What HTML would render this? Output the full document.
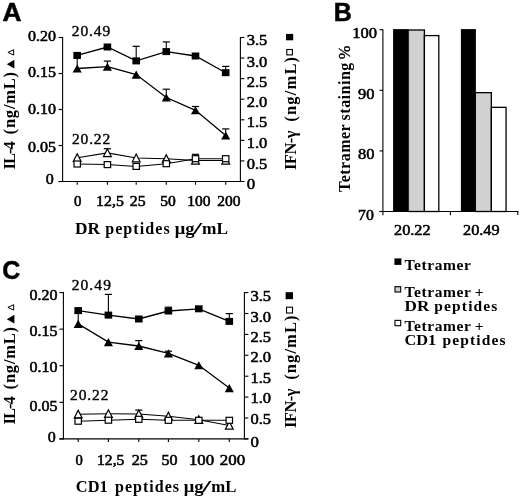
<!DOCTYPE html>
<html><head><meta charset="utf-8"><title>Figure</title>
<style>html,body{margin:0;padding:0;background:#fff;}svg{display:block;filter:grayscale(1);}</style></head><body>
<svg width="520" height="497" viewBox="0 0 520 497">
<rect width="520" height="497" fill="#fff"/>
<text x="2.6" y="20.8" font-family='"Liberation Sans", sans-serif' font-size="25" font-weight="bold" stroke="#000" stroke-width="0.5" text-anchor="start" textLength="19.0" lengthAdjust="spacingAndGlyphs">A</text>
<text x="333.7" y="20.8" font-family='"Liberation Sans", sans-serif' font-size="25" font-weight="bold" stroke="#000" stroke-width="0.5" text-anchor="start" textLength="17.4" lengthAdjust="spacing">B</text>
<text x="2.2" y="278.5" font-family='"Liberation Sans", sans-serif' font-size="25" font-weight="bold" stroke="#000" stroke-width="0.5" text-anchor="start" textLength="18.2" lengthAdjust="spacing">C</text>
<line x1="62.6" y1="37.0" x2="62.6" y2="182.0" stroke="#000" stroke-width="1.1"/>
<line x1="240.4" y1="37.0" x2="240.4" y2="182.0" stroke="#000" stroke-width="1.1"/>
<line x1="58.6" y1="181.5" x2="244.4" y2="181.5" stroke="#000" stroke-width="1.1"/>
<line x1="58.6" y1="37.5" x2="62.6" y2="37.5" stroke="#000" stroke-width="1.1"/>
<line x1="58.6" y1="73.5" x2="62.6" y2="73.5" stroke="#000" stroke-width="1.1"/>
<line x1="58.6" y1="109.5" x2="62.6" y2="109.5" stroke="#000" stroke-width="1.1"/>
<line x1="58.6" y1="145.5" x2="62.6" y2="145.5" stroke="#000" stroke-width="1.1"/>
<line x1="58.6" y1="181.5" x2="62.6" y2="181.5" stroke="#000" stroke-width="1.1"/>
<line x1="240.4" y1="37.5" x2="244.4" y2="37.5" stroke="#000" stroke-width="1.1"/>
<line x1="240.4" y1="58.07142857142857" x2="244.4" y2="58.07142857142857" stroke="#000" stroke-width="1.1"/>
<line x1="240.4" y1="78.64285714285714" x2="244.4" y2="78.64285714285714" stroke="#000" stroke-width="1.1"/>
<line x1="240.4" y1="99.21428571428572" x2="244.4" y2="99.21428571428572" stroke="#000" stroke-width="1.1"/>
<line x1="240.4" y1="119.78571428571429" x2="244.4" y2="119.78571428571429" stroke="#000" stroke-width="1.1"/>
<line x1="240.4" y1="140.35714285714286" x2="244.4" y2="140.35714285714286" stroke="#000" stroke-width="1.1"/>
<line x1="240.4" y1="160.92857142857144" x2="244.4" y2="160.92857142857144" stroke="#000" stroke-width="1.1"/>
<line x1="240.4" y1="181.5" x2="244.4" y2="181.5" stroke="#000" stroke-width="1.1"/>
<line x1="77.2" y1="181.5" x2="77.2" y2="184.7" stroke="#000" stroke-width="1.1"/>
<line x1="107.4" y1="181.5" x2="107.4" y2="184.7" stroke="#000" stroke-width="1.1"/>
<line x1="136.2" y1="181.5" x2="136.2" y2="184.7" stroke="#000" stroke-width="1.1"/>
<line x1="166.3" y1="181.5" x2="166.3" y2="184.7" stroke="#000" stroke-width="1.1"/>
<line x1="195.5" y1="181.5" x2="195.5" y2="184.7" stroke="#000" stroke-width="1.1"/>
<line x1="225.7" y1="181.5" x2="225.7" y2="184.7" stroke="#000" stroke-width="1.1"/>
<text x="28.1" y="40.9" font-family='"Liberation Serif", serif' font-size="15" font-weight="normal" stroke="#000" stroke-width="0.55" text-anchor="start" textLength="28.0" lengthAdjust="spacingAndGlyphs">0.20</text>
<text x="28.1" y="76.6" font-family='"Liberation Serif", serif' font-size="15" font-weight="normal" stroke="#000" stroke-width="0.55" text-anchor="start" textLength="28.0" lengthAdjust="spacingAndGlyphs">0.15</text>
<text x="28.1" y="113.5" font-family='"Liberation Serif", serif' font-size="15" font-weight="normal" stroke="#000" stroke-width="0.55" text-anchor="start" textLength="28.0" lengthAdjust="spacingAndGlyphs">0.10</text>
<text x="28.1" y="151.6" font-family='"Liberation Serif", serif' font-size="15" font-weight="normal" stroke="#000" stroke-width="0.55" text-anchor="start" textLength="28.0" lengthAdjust="spacingAndGlyphs">0.05</text>
<text x="45.800000000000004" y="183.6" font-family='"Liberation Serif", serif' font-size="15" font-weight="normal" stroke="#000" stroke-width="0.55" text-anchor="start" textLength="8.0" lengthAdjust="spacingAndGlyphs">0</text>
<text x="246.7" y="45.4" font-family='"Liberation Serif", serif' font-size="15.5" font-weight="normal" stroke="#000" stroke-width="0.55" text-anchor="start" textLength="20.6" lengthAdjust="spacingAndGlyphs">3.5</text>
<text x="246.7" y="66.5" font-family='"Liberation Serif", serif' font-size="15.5" font-weight="normal" stroke="#000" stroke-width="0.55" text-anchor="start" textLength="20.6" lengthAdjust="spacingAndGlyphs">3.0</text>
<text x="246.7" y="86.9" font-family='"Liberation Serif", serif' font-size="15.5" font-weight="normal" stroke="#000" stroke-width="0.55" text-anchor="start" textLength="20.6" lengthAdjust="spacingAndGlyphs">2.5</text>
<text x="246.7" y="107.1" font-family='"Liberation Serif", serif' font-size="15.5" font-weight="normal" stroke="#000" stroke-width="0.55" text-anchor="start" textLength="20.6" lengthAdjust="spacingAndGlyphs">2.0</text>
<text x="246.7" y="127.4" font-family='"Liberation Serif", serif' font-size="15.5" font-weight="normal" stroke="#000" stroke-width="0.55" text-anchor="start" textLength="20.6" lengthAdjust="spacingAndGlyphs">1.5</text>
<text x="246.7" y="147.8" font-family='"Liberation Serif", serif' font-size="15.5" font-weight="normal" stroke="#000" stroke-width="0.55" text-anchor="start" textLength="20.6" lengthAdjust="spacingAndGlyphs">1.0</text>
<text x="246.7" y="168.6" font-family='"Liberation Serif", serif' font-size="15.5" font-weight="normal" stroke="#000" stroke-width="0.55" text-anchor="start" textLength="20.6" lengthAdjust="spacingAndGlyphs">0.5</text>
<text x="246.7" y="189.0" font-family='"Liberation Serif", serif' font-size="15.5" font-weight="normal" stroke="#000" stroke-width="0.55" text-anchor="start" textLength="8.4" lengthAdjust="spacingAndGlyphs">0</text>
<text x="74.0" y="206.2" font-family='"Liberation Serif", serif' font-size="14.5" font-weight="normal" stroke="#000" stroke-width="0.55" text-anchor="start" textLength="7.4" lengthAdjust="spacingAndGlyphs">0</text>
<text x="96.1" y="206.2" font-family='"Liberation Serif", serif' font-size="14.5" font-weight="normal" stroke="#000" stroke-width="0.55" text-anchor="start" textLength="27.7" lengthAdjust="spacingAndGlyphs">12,5</text>
<text x="129.8" y="206.2" font-family='"Liberation Serif", serif' font-size="14.5" font-weight="normal" stroke="#000" stroke-width="0.55" text-anchor="start" textLength="15.8" lengthAdjust="spacingAndGlyphs">25</text>
<text x="160.2" y="206.2" font-family='"Liberation Serif", serif' font-size="14.5" font-weight="normal" stroke="#000" stroke-width="0.55" text-anchor="start" textLength="15.5" lengthAdjust="spacingAndGlyphs">50</text>
<text x="187.2" y="206.2" font-family='"Liberation Serif", serif' font-size="14.5" font-weight="normal" stroke="#000" stroke-width="0.55" text-anchor="start" textLength="23.2" lengthAdjust="spacingAndGlyphs">100</text>
<text x="217.2" y="206.2" font-family='"Liberation Serif", serif' font-size="14.5" font-weight="normal" stroke="#000" stroke-width="0.55" text-anchor="start" textLength="23.2" lengthAdjust="spacingAndGlyphs">200</text>
<line x1="77.2" y1="68.5" x2="77.2" y2="58.0" stroke="#000" stroke-width="1.1"/>
<line x1="73.60000000000001" y1="58.0" x2="80.8" y2="58.0" stroke="#000" stroke-width="1.2"/>
<line x1="107.4" y1="66.7" x2="107.4" y2="61.1" stroke="#000" stroke-width="1.1"/>
<line x1="103.80000000000001" y1="61.1" x2="111.0" y2="61.1" stroke="#000" stroke-width="1.2"/>
<line x1="136.2" y1="60.9" x2="136.2" y2="46.3" stroke="#000" stroke-width="1.1"/>
<line x1="132.6" y1="46.3" x2="139.79999999999998" y2="46.3" stroke="#000" stroke-width="1.2"/>
<line x1="166.3" y1="51.6" x2="166.3" y2="41.9" stroke="#000" stroke-width="1.1"/>
<line x1="162.70000000000002" y1="41.9" x2="169.9" y2="41.9" stroke="#000" stroke-width="1.2"/>
<line x1="225.7" y1="72.7" x2="225.7" y2="66.4" stroke="#000" stroke-width="1.1"/>
<line x1="222.1" y1="66.4" x2="229.29999999999998" y2="66.4" stroke="#000" stroke-width="1.2"/>
<line x1="166.3" y1="97.5" x2="166.3" y2="89.2" stroke="#000" stroke-width="1.1"/>
<line x1="162.70000000000002" y1="89.2" x2="169.9" y2="89.2" stroke="#000" stroke-width="1.2"/>
<line x1="195.5" y1="110.3" x2="195.5" y2="106.5" stroke="#000" stroke-width="1.1"/>
<line x1="191.9" y1="106.5" x2="199.1" y2="106.5" stroke="#000" stroke-width="1.2"/>
<line x1="225.7" y1="135.5" x2="225.7" y2="128.9" stroke="#000" stroke-width="1.1"/>
<line x1="222.1" y1="128.9" x2="229.29999999999998" y2="128.9" stroke="#000" stroke-width="1.2"/>
<line x1="107.4" y1="152.9" x2="107.4" y2="148.7" stroke="#000" stroke-width="1.1"/>
<line x1="103.80000000000001" y1="148.7" x2="111.0" y2="148.7" stroke="#000" stroke-width="1.2"/>
<line x1="195.5" y1="158.8" x2="195.5" y2="154.3" stroke="#000" stroke-width="1.1"/>
<line x1="191.9" y1="154.3" x2="199.1" y2="154.3" stroke="#000" stroke-width="1.2"/>
<polyline points="77.2,55.4 107.4,47.0 136.2,60.9 166.3,51.6 195.5,56.0 225.7,72.7" fill="none" stroke="#000" stroke-width="1.3"/>
<polyline points="77.2,68.5 107.4,66.7 136.2,74.6 166.3,97.5 195.5,110.3 225.7,135.5" fill="none" stroke="#000" stroke-width="1.3"/>
<polyline points="77.2,157.8 107.4,152.9 136.2,158.1 166.3,158.7 195.5,160.4 225.7,160.4" fill="none" stroke="#000" stroke-width="1.05"/>
<polyline points="77.2,164.0 107.4,164.6 136.2,166.4 166.3,163.7 195.5,158.7 225.7,158.7" fill="none" stroke="#000" stroke-width="1.05"/>
<polygon points="77.20,64.45 81.75,72.55 72.65,72.55" fill="#000"/>
<polygon points="107.40,62.65 111.95,70.75 102.85,70.75" fill="#000"/>
<polygon points="136.20,70.55 140.75,78.65 131.65,78.65" fill="#000"/>
<polygon points="166.30,93.45 170.85,101.55 161.75,101.55" fill="#000"/>
<polygon points="195.50,106.25 200.05,114.35 190.95,114.35" fill="#000"/>
<polygon points="225.70,131.45 230.25,139.55 221.15,139.55" fill="#000"/>
<rect x="73.40" y="51.90" width="7.6" height="7.0" fill="#000"/>
<rect x="103.60" y="43.50" width="7.6" height="7.0" fill="#000"/>
<rect x="132.40" y="57.40" width="7.6" height="7.0" fill="#000"/>
<rect x="162.50" y="48.10" width="7.6" height="7.0" fill="#000"/>
<rect x="191.70" y="52.50" width="7.6" height="7.0" fill="#000"/>
<rect x="221.90" y="69.20" width="7.6" height="7.0" fill="#000"/>
<polygon points="77.20,153.80 81.10,161.50 73.30,161.50" fill="#fff" stroke="#000" stroke-width="1.2" stroke-linejoin="miter"/>
<polygon points="107.40,148.90 111.30,156.60 103.50,156.60" fill="#fff" stroke="#000" stroke-width="1.2" stroke-linejoin="miter"/>
<polygon points="136.20,154.10 140.10,161.80 132.30,161.80" fill="#fff" stroke="#000" stroke-width="1.2" stroke-linejoin="miter"/>
<polygon points="166.30,154.70 170.20,162.40 162.40,162.40" fill="#fff" stroke="#000" stroke-width="1.2" stroke-linejoin="miter"/>
<polygon points="195.50,156.40 199.40,164.10 191.60,164.10" fill="#fff" stroke="#000" stroke-width="1.2" stroke-linejoin="miter"/>
<polygon points="225.70,156.40 229.60,164.10 221.80,164.10" fill="#fff" stroke="#000" stroke-width="1.2" stroke-linejoin="miter"/>
<rect x="74.00" y="161.00" width="6.3999999999999995" height="6.0" fill="#fff" stroke="#000" stroke-width="1.2"/>
<rect x="104.20" y="161.60" width="6.3999999999999995" height="6.0" fill="#fff" stroke="#000" stroke-width="1.2"/>
<rect x="133.00" y="163.40" width="6.3999999999999995" height="6.0" fill="#fff" stroke="#000" stroke-width="1.2"/>
<rect x="163.10" y="160.70" width="6.3999999999999995" height="6.0" fill="#fff" stroke="#000" stroke-width="1.2"/>
<rect x="192.30" y="155.70" width="6.3999999999999995" height="6.0" fill="#fff" stroke="#000" stroke-width="1.2"/>
<rect x="222.50" y="155.70" width="6.3999999999999995" height="6.0" fill="#fff" stroke="#000" stroke-width="1.2"/>
<text x="71.7" y="35.9" font-family='"Liberation Serif", serif' font-size="15.5" font-weight="normal" stroke="#000" stroke-width="0.4" text-anchor="start" textLength="38.6" lengthAdjust="spacing">20.49</text>
<text x="72.0" y="143.6" font-family='"Liberation Serif", serif' font-size="15.5" font-weight="normal" stroke="#000" stroke-width="0.4" text-anchor="start" textLength="38.2" lengthAdjust="spacing">20.22</text>
<text x="74.9" y="233.6" font-family='"Liberation Serif", serif' font-size="16" font-weight="bold" text-anchor="start" textLength="25.0" lengthAdjust="spacingAndGlyphs">DR</text>
<text x="105.2" y="233.6" font-family='"Liberation Serif", serif' font-size="16" font-weight="bold" text-anchor="start" textLength="64.5" lengthAdjust="spacing">peptides</text>
<text x="174.7" y="233.6" font-family='"Liberation Serif", serif' font-size="16" font-weight="bold" text-anchor="start" textLength="19.7" lengthAdjust="spacingAndGlyphs">&#956;g</text>
<text x="193.0" y="233.6" font-family='"Liberation Serif", serif' font-size="16" font-weight="bold" text-anchor="start" textLength="9.1" lengthAdjust="spacingAndGlyphs">/</text>
<text x="202.1" y="233.6" font-family='"Liberation Serif", serif' font-size="16" font-weight="bold" text-anchor="start" textLength="26.0" lengthAdjust="spacingAndGlyphs">mL</text>
<text transform="translate(15.0,169.5) rotate(-90)" font-family='"Liberation Serif", serif' font-size="16.5" font-weight="bold" textLength="28.3" lengthAdjust="spacing">IL-4</text>
<text transform="translate(15.0,134.4) rotate(-90)" font-family='"Liberation Serif", serif' font-size="16.5" font-weight="bold" textLength="62.5" lengthAdjust="spacing">(ng/mL)</text>
<text transform="translate(296.0,170.0) rotate(-90)" font-family='"Liberation Serif", serif' font-size="16.5" font-weight="bold" textLength="39.5" lengthAdjust="spacing">IFN-&#947;</text>
<text transform="translate(296.0,121.7) rotate(-90)" font-family='"Liberation Serif", serif' font-size="16.5" font-weight="bold" textLength="64.8" lengthAdjust="spacing">(ng/mL)</text>
<polygon points="6.8,64.2 14.4,59.8 14.4,68.6" fill="#000"/>
<polygon points="7.9,52.4 13.7,49.7 13.7,55.1" fill="#fff" stroke="#000" stroke-width="1"/>
<rect x="286" y="33.9" width="7.2" height="6.4" fill="#000"/>
<rect x="286.8" y="49.5" width="5.6" height="5.4" fill="#fff" stroke="#000" stroke-width="1.1"/>
<line x1="63.4" y1="292.1" x2="63.4" y2="439.4" stroke="#000" stroke-width="1.1"/>
<line x1="244.4" y1="292.1" x2="244.4" y2="439.4" stroke="#000" stroke-width="1.1"/>
<line x1="59.4" y1="438.9" x2="248.4" y2="438.9" stroke="#000" stroke-width="1.1"/>
<line x1="59.4" y1="292.6" x2="63.4" y2="292.6" stroke="#000" stroke-width="1.1"/>
<line x1="59.4" y1="329.175" x2="63.4" y2="329.175" stroke="#000" stroke-width="1.1"/>
<line x1="59.4" y1="365.75" x2="63.4" y2="365.75" stroke="#000" stroke-width="1.1"/>
<line x1="59.4" y1="402.325" x2="63.4" y2="402.325" stroke="#000" stroke-width="1.1"/>
<line x1="59.4" y1="438.9" x2="63.4" y2="438.9" stroke="#000" stroke-width="1.1"/>
<line x1="244.4" y1="292.6" x2="248.4" y2="292.6" stroke="#000" stroke-width="1.1"/>
<line x1="244.4" y1="313.5" x2="248.4" y2="313.5" stroke="#000" stroke-width="1.1"/>
<line x1="244.4" y1="334.40000000000003" x2="248.4" y2="334.40000000000003" stroke="#000" stroke-width="1.1"/>
<line x1="244.4" y1="355.3" x2="248.4" y2="355.3" stroke="#000" stroke-width="1.1"/>
<line x1="244.4" y1="376.2" x2="248.4" y2="376.2" stroke="#000" stroke-width="1.1"/>
<line x1="244.4" y1="397.1" x2="248.4" y2="397.1" stroke="#000" stroke-width="1.1"/>
<line x1="244.4" y1="418.0" x2="248.4" y2="418.0" stroke="#000" stroke-width="1.1"/>
<line x1="244.4" y1="438.9" x2="248.4" y2="438.9" stroke="#000" stroke-width="1.1"/>
<line x1="78.2" y1="438.9" x2="78.2" y2="442.09999999999997" stroke="#000" stroke-width="1.1"/>
<line x1="108.4" y1="438.9" x2="108.4" y2="442.09999999999997" stroke="#000" stroke-width="1.1"/>
<line x1="138.8" y1="438.9" x2="138.8" y2="442.09999999999997" stroke="#000" stroke-width="1.1"/>
<line x1="168.4" y1="438.9" x2="168.4" y2="442.09999999999997" stroke="#000" stroke-width="1.1"/>
<line x1="198.8" y1="438.9" x2="198.8" y2="442.09999999999997" stroke="#000" stroke-width="1.1"/>
<line x1="229.3" y1="438.9" x2="229.3" y2="442.09999999999997" stroke="#000" stroke-width="1.1"/>
<text x="29.400000000000002" y="299.6" font-family='"Liberation Serif", serif' font-size="15" font-weight="normal" stroke="#000" stroke-width="0.55" text-anchor="start" textLength="28.0" lengthAdjust="spacingAndGlyphs">0.20</text>
<text x="29.400000000000002" y="336.0" font-family='"Liberation Serif", serif' font-size="15" font-weight="normal" stroke="#000" stroke-width="0.55" text-anchor="start" textLength="28.0" lengthAdjust="spacingAndGlyphs">0.15</text>
<text x="29.400000000000002" y="371.5" font-family='"Liberation Serif", serif' font-size="15" font-weight="normal" stroke="#000" stroke-width="0.55" text-anchor="start" textLength="28.0" lengthAdjust="spacingAndGlyphs">0.10</text>
<text x="29.400000000000002" y="410.9" font-family='"Liberation Serif", serif' font-size="15" font-weight="normal" stroke="#000" stroke-width="0.55" text-anchor="start" textLength="28.0" lengthAdjust="spacingAndGlyphs">0.05</text>
<text x="47.7" y="441.6" font-family='"Liberation Serif", serif' font-size="15" font-weight="normal" stroke="#000" stroke-width="0.55" text-anchor="start" textLength="8.0" lengthAdjust="spacingAndGlyphs">0</text>
<text x="250.4" y="300.6" font-family='"Liberation Serif", serif' font-size="15.5" font-weight="normal" stroke="#000" stroke-width="0.55" text-anchor="start" textLength="20.6" lengthAdjust="spacingAndGlyphs">3.5</text>
<text x="250.4" y="321.5" font-family='"Liberation Serif", serif' font-size="15.5" font-weight="normal" stroke="#000" stroke-width="0.55" text-anchor="start" textLength="20.6" lengthAdjust="spacingAndGlyphs">3.0</text>
<text x="250.4" y="341.7" font-family='"Liberation Serif", serif' font-size="15.5" font-weight="normal" stroke="#000" stroke-width="0.55" text-anchor="start" textLength="20.6" lengthAdjust="spacingAndGlyphs">2.5</text>
<text x="250.4" y="362.4" font-family='"Liberation Serif", serif' font-size="15.5" font-weight="normal" stroke="#000" stroke-width="0.55" text-anchor="start" textLength="20.6" lengthAdjust="spacingAndGlyphs">2.0</text>
<text x="250.4" y="382.8" font-family='"Liberation Serif", serif' font-size="15.5" font-weight="normal" stroke="#000" stroke-width="0.55" text-anchor="start" textLength="20.6" lengthAdjust="spacingAndGlyphs">1.5</text>
<text x="250.4" y="403.4" font-family='"Liberation Serif", serif' font-size="15.5" font-weight="normal" stroke="#000" stroke-width="0.55" text-anchor="start" textLength="20.6" lengthAdjust="spacingAndGlyphs">1.0</text>
<text x="250.4" y="423.9" font-family='"Liberation Serif", serif' font-size="15.5" font-weight="normal" stroke="#000" stroke-width="0.55" text-anchor="start" textLength="20.6" lengthAdjust="spacingAndGlyphs">0.5</text>
<text x="250.4" y="446.7" font-family='"Liberation Serif", serif' font-size="15.5" font-weight="normal" stroke="#000" stroke-width="0.55" text-anchor="start" textLength="8.4" lengthAdjust="spacingAndGlyphs">0</text>
<text x="75.4" y="464.6" font-family='"Liberation Serif", serif' font-size="14.5" font-weight="normal" stroke="#000" stroke-width="0.55" text-anchor="start" textLength="7.3" lengthAdjust="spacingAndGlyphs">0</text>
<text x="97.1" y="464.6" font-family='"Liberation Serif", serif' font-size="14.5" font-weight="normal" stroke="#000" stroke-width="0.55" text-anchor="start" textLength="27.2" lengthAdjust="spacingAndGlyphs">12,5</text>
<text x="131.7" y="464.6" font-family='"Liberation Serif", serif' font-size="14.5" font-weight="normal" stroke="#000" stroke-width="0.55" text-anchor="start" textLength="16.2" lengthAdjust="spacingAndGlyphs">25</text>
<text x="161.5" y="464.6" font-family='"Liberation Serif", serif' font-size="14.5" font-weight="normal" stroke="#000" stroke-width="0.55" text-anchor="start" textLength="16.0" lengthAdjust="spacingAndGlyphs">50</text>
<text x="189.0" y="464.6" font-family='"Liberation Serif", serif' font-size="14.5" font-weight="normal" stroke="#000" stroke-width="0.55" text-anchor="start" textLength="25.1" lengthAdjust="spacingAndGlyphs">100</text>
<text x="219.8" y="464.6" font-family='"Liberation Serif", serif' font-size="14.5" font-weight="normal" stroke="#000" stroke-width="0.55" text-anchor="start" textLength="25.4" lengthAdjust="spacingAndGlyphs">200</text>
<line x1="78.2" y1="323.9" x2="78.2" y2="313.0" stroke="#000" stroke-width="1.1"/>
<line x1="74.60000000000001" y1="313.0" x2="81.8" y2="313.0" stroke="#000" stroke-width="1.2"/>
<line x1="108.4" y1="315.1" x2="108.4" y2="294.4" stroke="#000" stroke-width="1.1"/>
<line x1="104.80000000000001" y1="294.4" x2="112.0" y2="294.4" stroke="#000" stroke-width="1.2"/>
<line x1="168.4" y1="311.0" x2="168.4" y2="307.2" stroke="#000" stroke-width="1.1"/>
<line x1="164.8" y1="307.2" x2="172.0" y2="307.2" stroke="#000" stroke-width="1.2"/>
<line x1="229.3" y1="321.4" x2="229.3" y2="313.6" stroke="#000" stroke-width="1.1"/>
<line x1="225.70000000000002" y1="313.6" x2="232.9" y2="313.6" stroke="#000" stroke-width="1.2"/>
<line x1="138.8" y1="346.0" x2="138.8" y2="340.6" stroke="#000" stroke-width="1.1"/>
<line x1="135.20000000000002" y1="340.6" x2="142.4" y2="340.6" stroke="#000" stroke-width="1.2"/>
<line x1="168.4" y1="353.4" x2="168.4" y2="351.2" stroke="#000" stroke-width="1.1"/>
<line x1="164.8" y1="351.2" x2="172.0" y2="351.2" stroke="#000" stroke-width="1.2"/>
<line x1="138.8" y1="414.0" x2="138.8" y2="410.1" stroke="#000" stroke-width="1.1"/>
<line x1="135.20000000000002" y1="410.1" x2="142.4" y2="410.1" stroke="#000" stroke-width="1.2"/>
<polyline points="78.2,310.6 108.4,315.1 138.8,319.0 168.4,311.0 198.8,308.8 229.3,321.4" fill="none" stroke="#000" stroke-width="1.3"/>
<polyline points="78.2,323.9 108.4,342.1 138.8,346.0 168.4,353.4 198.8,365.3 229.3,388.1" fill="none" stroke="#000" stroke-width="1.3"/>
<polyline points="78.2,414.2 108.4,413.8 138.8,414.0 168.4,416.3 198.8,419.8 229.3,425.5" fill="none" stroke="#000" stroke-width="1.05"/>
<polyline points="78.2,421.2 108.4,420.2 138.8,419.3 168.4,420.3 198.8,420.3 229.3,420.3" fill="none" stroke="#000" stroke-width="1.05"/>
<polygon points="78.20,319.85 82.75,327.95 73.65,327.95" fill="#000"/>
<polygon points="108.40,338.05 112.95,346.15 103.85,346.15" fill="#000"/>
<polygon points="138.80,341.95 143.35,350.05 134.25,350.05" fill="#000"/>
<polygon points="168.40,349.35 172.95,357.45 163.85,357.45" fill="#000"/>
<polygon points="198.80,361.25 203.35,369.35 194.25,369.35" fill="#000"/>
<polygon points="229.30,384.05 233.85,392.15 224.75,392.15" fill="#000"/>
<rect x="74.40" y="307.10" width="7.6" height="7.0" fill="#000"/>
<rect x="104.60" y="311.60" width="7.6" height="7.0" fill="#000"/>
<rect x="135.00" y="315.50" width="7.6" height="7.0" fill="#000"/>
<rect x="164.60" y="307.50" width="7.6" height="7.0" fill="#000"/>
<rect x="195.00" y="305.30" width="7.6" height="7.0" fill="#000"/>
<rect x="225.50" y="317.90" width="7.6" height="7.0" fill="#000"/>
<polygon points="78.20,410.20 82.10,417.90 74.30,417.90" fill="#fff" stroke="#000" stroke-width="1.2" stroke-linejoin="miter"/>
<polygon points="108.40,409.80 112.30,417.50 104.50,417.50" fill="#fff" stroke="#000" stroke-width="1.2" stroke-linejoin="miter"/>
<polygon points="138.80,410.00 142.70,417.70 134.90,417.70" fill="#fff" stroke="#000" stroke-width="1.2" stroke-linejoin="miter"/>
<polygon points="168.40,412.30 172.30,420.00 164.50,420.00" fill="#fff" stroke="#000" stroke-width="1.2" stroke-linejoin="miter"/>
<polygon points="198.80,415.80 202.70,423.50 194.90,423.50" fill="#fff" stroke="#000" stroke-width="1.2" stroke-linejoin="miter"/>
<polygon points="229.30,421.50 233.20,429.20 225.40,429.20" fill="#fff" stroke="#000" stroke-width="1.2" stroke-linejoin="miter"/>
<rect x="75.00" y="418.20" width="6.3999999999999995" height="6.0" fill="#fff" stroke="#000" stroke-width="1.2"/>
<rect x="105.20" y="417.20" width="6.3999999999999995" height="6.0" fill="#fff" stroke="#000" stroke-width="1.2"/>
<rect x="135.60" y="416.30" width="6.3999999999999995" height="6.0" fill="#fff" stroke="#000" stroke-width="1.2"/>
<rect x="165.20" y="417.30" width="6.3999999999999995" height="6.0" fill="#fff" stroke="#000" stroke-width="1.2"/>
<rect x="195.60" y="417.30" width="6.3999999999999995" height="6.0" fill="#fff" stroke="#000" stroke-width="1.2"/>
<rect x="226.10" y="417.30" width="6.3999999999999995" height="6.0" fill="#fff" stroke="#000" stroke-width="1.2"/>
<text x="71.7" y="290.0" font-family='"Liberation Serif", serif' font-size="15.5" font-weight="normal" stroke="#000" stroke-width="0.4" text-anchor="start" textLength="39.2" lengthAdjust="spacing">20.49</text>
<text x="70.1" y="400.0" font-family='"Liberation Serif", serif' font-size="15.5" font-weight="normal" stroke="#000" stroke-width="0.4" text-anchor="start" textLength="38.4" lengthAdjust="spacing">20.22</text>
<text x="75.8" y="491.6" font-family='"Liberation Serif", serif' font-size="16" font-weight="bold" text-anchor="start" textLength="31.9" lengthAdjust="spacingAndGlyphs">CD1</text>
<text x="115.0" y="491.6" font-family='"Liberation Serif", serif' font-size="16" font-weight="bold" text-anchor="start" textLength="64.0" lengthAdjust="spacing">peptides</text>
<text x="183.7" y="491.6" font-family='"Liberation Serif", serif' font-size="16" font-weight="bold" text-anchor="start" textLength="19.8" lengthAdjust="spacingAndGlyphs">&#956;g</text>
<text x="202.1" y="491.6" font-family='"Liberation Serif", serif' font-size="16" font-weight="bold" text-anchor="start" textLength="9.1" lengthAdjust="spacingAndGlyphs">/</text>
<text x="211.2" y="491.6" font-family='"Liberation Serif", serif' font-size="16" font-weight="bold" text-anchor="start" textLength="25.1" lengthAdjust="spacingAndGlyphs">mL</text>
<text transform="translate(15.0,424.5) rotate(-90)" font-family='"Liberation Serif", serif' font-size="16.5" font-weight="bold" textLength="28.3" lengthAdjust="spacing">IL-4</text>
<text transform="translate(15.0,389.4) rotate(-90)" font-family='"Liberation Serif", serif' font-size="16.5" font-weight="bold" textLength="62.5" lengthAdjust="spacing">(ng/mL)</text>
<text transform="translate(296.0,428.0) rotate(-90)" font-family='"Liberation Serif", serif' font-size="16.5" font-weight="bold" textLength="39.5" lengthAdjust="spacing">IFN-&#947;</text>
<text transform="translate(296.0,379.7) rotate(-90)" font-family='"Liberation Serif", serif' font-size="16.5" font-weight="bold" textLength="64.2" lengthAdjust="spacing">(ng/mL)</text>
<polygon points="6.8,319.2 14.4,314.8 14.4,323.6" fill="#000"/>
<polygon points="7.9,307.4 13.7,304.7 13.7,310.1" fill="#fff" stroke="#000" stroke-width="1"/>
<rect x="285.6" y="292.2" width="7.4" height="7.0" fill="#000"/>
<rect x="286.5" y="307.2" width="6.0" height="5.8" fill="#fff" stroke="#000" stroke-width="1.1"/>
<rect x="393.1" y="29.1" width="15.599999999999966" height="182.4" fill="#000"/>
<rect x="408.7" y="30.0" width="15.699999999999989" height="181.5" fill="#d1d1d1" stroke="#000" stroke-width="1.3"/>
<rect x="424.4" y="35.6" width="14.400000000000034" height="175.9" fill="#fff" stroke="#000" stroke-width="1.3"/>
<rect x="460.9" y="29.1" width="15.0" height="182.4" fill="#000"/>
<rect x="475.9" y="92.65" width="15.450000000000045" height="118.85" fill="#d1d1d1" stroke="#000" stroke-width="1.3"/>
<rect x="491.35" y="107.35" width="14.699999999999989" height="104.15" fill="#fff" stroke="#000" stroke-width="1.3"/>
<line x1="409.3" y1="30.8" x2="409.3" y2="210.8" stroke="#e8e8e8" stroke-width="0.8"/>
<line x1="476.5" y1="93.4" x2="476.5" y2="210.8" stroke="#e8e8e8" stroke-width="0.8"/>
<line x1="382.9" y1="29.2" x2="382.9" y2="215.3" stroke="#000" stroke-width="1.1"/>
<line x1="379.5" y1="211.5" x2="518.4" y2="211.5" stroke="#000" stroke-width="1.1"/>
<line x1="379.5" y1="29.7" x2="382.9" y2="29.7" stroke="#000" stroke-width="1.1"/>
<line x1="379.5" y1="90.3" x2="382.9" y2="90.3" stroke="#000" stroke-width="1.1"/>
<line x1="379.5" y1="150.9" x2="382.9" y2="150.9" stroke="#000" stroke-width="1.1"/>
<line x1="379.5" y1="211.50000000000003" x2="382.9" y2="211.50000000000003" stroke="#000" stroke-width="1.1"/>
<line x1="450.4" y1="211.5" x2="450.4" y2="215.3" stroke="#000" stroke-width="1.1"/>
<line x1="517.8" y1="211.5" x2="517.8" y2="215.1" stroke="#000" stroke-width="1.1"/>
<text x="352.3" y="37.8" font-family='"Liberation Serif", serif' font-size="15" font-weight="normal" stroke="#000" stroke-width="0.55" text-anchor="start" textLength="24.8" lengthAdjust="spacingAndGlyphs">100</text>
<text x="358.0" y="98.6" font-family='"Liberation Serif", serif' font-size="15" font-weight="normal" stroke="#000" stroke-width="0.55" text-anchor="start" textLength="16.4" lengthAdjust="spacingAndGlyphs">90</text>
<text x="358.0" y="159.1" font-family='"Liberation Serif", serif' font-size="15" font-weight="normal" stroke="#000" stroke-width="0.55" text-anchor="start" textLength="16.4" lengthAdjust="spacingAndGlyphs">80</text>
<text x="358.0" y="219.5" font-family='"Liberation Serif", serif' font-size="15" font-weight="normal" stroke="#000" stroke-width="0.55" text-anchor="start" textLength="15.8" lengthAdjust="spacingAndGlyphs">70</text>
<text x="394.0" y="235.4" font-family='"Liberation Serif", serif' font-size="15" font-weight="normal" stroke="#000" stroke-width="0.55" text-anchor="start" textLength="36.6" lengthAdjust="spacingAndGlyphs">20.22</text>
<text x="463.0" y="235.4" font-family='"Liberation Serif", serif' font-size="15" font-weight="normal" stroke="#000" stroke-width="0.55" text-anchor="start" textLength="36.6" lengthAdjust="spacingAndGlyphs">20.49</text>
<text transform="translate(350.2,191.9) rotate(-90)" font-family='"Liberation Serif", serif' font-size="16" font-weight="bold" textLength="67.5" lengthAdjust="spacing">Tetramer</text>
<text transform="translate(350.2,120.4) rotate(-90)" font-family='"Liberation Serif", serif' font-size="16" font-weight="bold" textLength="57.7" lengthAdjust="spacing">staining</text>
<text transform="translate(350.0,59.2) rotate(-90)" font-family='"Liberation Serif", serif' font-size="16.5" font-weight="normal" stroke="#000" stroke-width="0.4" textLength="13.6" lengthAdjust="spacingAndGlyphs">%</text>
<rect x="394.4" y="258.4" width="7.0" height="6.5" fill="#000"/>
<rect x="395.0" y="286.7" width="5.7" height="5.3" fill="#d0d0d0" stroke="#111" stroke-width="1.2"/>
<rect x="395.0" y="320.4" width="5.7" height="5.3" fill="#fff" stroke="#111" stroke-width="1.2"/>
<text x="404.5" y="269.9" font-family='"Liberation Serif", serif' font-size="15.5" font-weight="bold" text-anchor="start" textLength="66.3" lengthAdjust="spacing">Tetramer</text>
<text x="404.5" y="297.4" font-family='"Liberation Serif", serif' font-size="15.5" font-weight="bold" text-anchor="start" textLength="66.3" lengthAdjust="spacing">Tetramer</text>
<text x="474.7" y="297.4" font-family='"Liberation Serif", serif' font-size="15.5" font-weight="bold" text-anchor="start" textLength="8.9" lengthAdjust="spacingAndGlyphs">+</text>
<text x="404.5" y="310.6" font-family='"Liberation Serif", serif' font-size="15.5" font-weight="bold" text-anchor="start" textLength="24.8" lengthAdjust="spacingAndGlyphs">DR</text>
<text x="434.3" y="310.6" font-family='"Liberation Serif", serif' font-size="15.5" font-weight="bold" text-anchor="start" textLength="63.1" lengthAdjust="spacing">peptides</text>
<text x="404.5" y="331.2" font-family='"Liberation Serif", serif' font-size="15.5" font-weight="bold" text-anchor="start" textLength="66.3" lengthAdjust="spacing">Tetramer</text>
<text x="474.7" y="331.2" font-family='"Liberation Serif", serif' font-size="15.5" font-weight="bold" text-anchor="start" textLength="8.9" lengthAdjust="spacingAndGlyphs">+</text>
<text x="404.5" y="344.6" font-family='"Liberation Serif", serif' font-size="15.5" font-weight="bold" text-anchor="start" textLength="31.8" lengthAdjust="spacingAndGlyphs">CD1</text>
<text x="442.4" y="344.6" font-family='"Liberation Serif", serif' font-size="15.5" font-weight="bold" text-anchor="start" textLength="63.1" lengthAdjust="spacing">peptides</text>
</svg></body></html>
